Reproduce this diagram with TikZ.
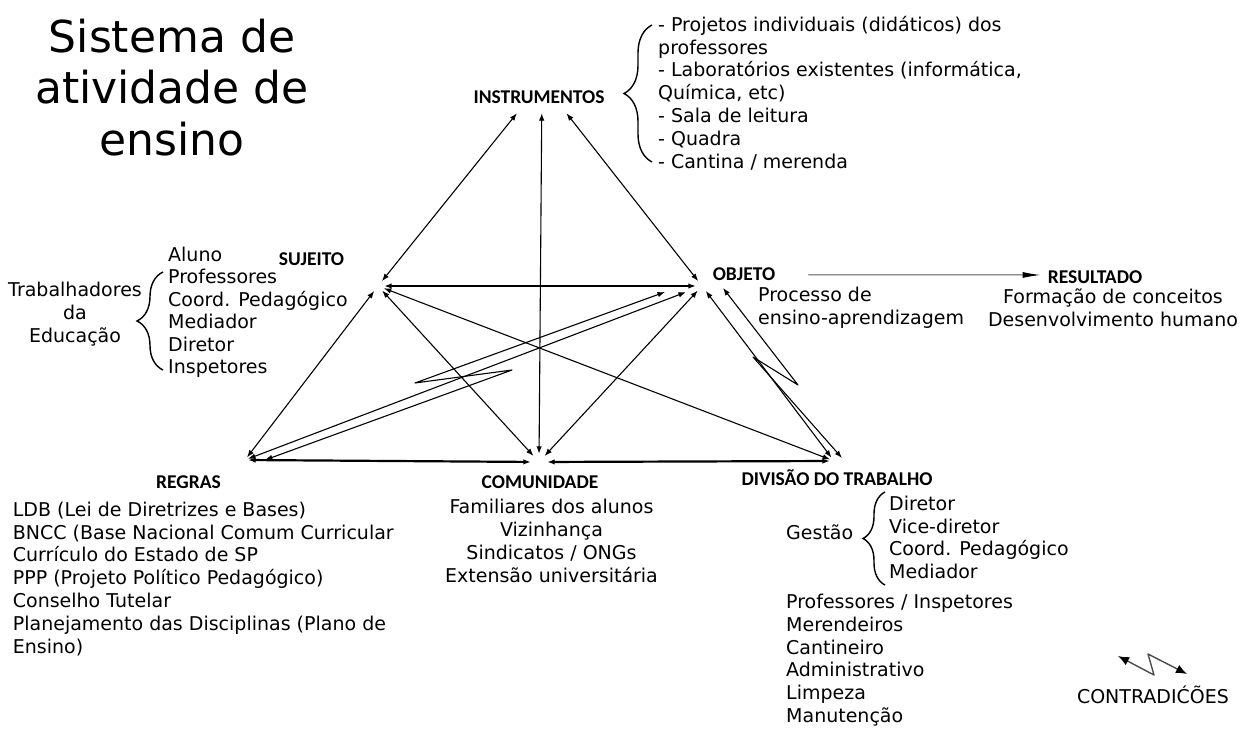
\documentclass[tikz,border=0pt]{standalone}
\usepackage{fontspec}
\setmainfont{DejaVu Sans}
\newfontfamily\lblfont{Carlito}
\usetikzlibrary{arrows.meta,decorations.pathreplacing}

\tikzset{
  vtx/.style={circle,inner sep=0pt,minimum size=#1},
  lbl/.style={font=\lblfont\bfseries\fontsize{19.5}{22}\selectfont,inner sep=0pt,anchor=base},
  txt/.style={font=\fontsize{19}{22.8}\selectfont,inner sep=0pt,align=left,anchor=north west},
  rel/.style={line width=1.1pt,line join=round,{Latex[length=7.5pt,width=5.5pt]}-{Latex[length=7.5pt,width=5.5pt]}},
  relthick/.style={rel,line width=2.2pt},
  brc/.style={decorate,decoration={brace,amplitude=#1},line width=1.4pt},
}

\begin{document}
\begin{tikzpicture}[x=1pt,y=-1pt]
  \useasboundingbox (0,0) rectangle (1250,730);

  % titulo
  \node[font=\fontsize{44}{51.5}\selectfont,align=center,anchor=north,inner sep=0pt] (titulo) at (172,18.6)
    {Sistema de\\atividade de\\ensino};

  % vertices do triangulo
  \node[minimum width=60pt,minimum height=62pt,inner sep=0pt] (i) at (542,82) {};
  \node[vtx=12pt] (s) at (378,286) {};
  \node[vtx=12pt] (o) at (702,286) {};
  \node[vtx=6pt] (r) at (245,460) {};
  \node[vtx=16pt] (c) at (539,462) {};
  \node[vtx=8pt] (d) at (834,461) {};

  % rotulos
  \node[lbl] (instr) at (539,103.3) {INSTRUMENTOS};
  \node[lbl] (suj) at (311.5,265) {SUJEITO};
  \node[lbl] (obj) at (744,280) {OBJETO};
  \node[lbl] (res) at (1095,283) {RESULTADO};
  \node[lbl] (regras) at (188.5,488) {REGRAS};
  \node[lbl] (comun) at (540,488) {COMUNIDADE};
  \node[lbl] (divis) at (837,485) {DIVISÃO DO TRABALHO};

  % setas
  \draw[rel] (s) -- (i);
  \draw[rel] (c) -- (i);
  \draw[rel] (o) -- (i);
  \draw[relthick] (s) -- (o);
  \draw[rel] (s) -- (c);
  \draw[rel] (s) -- (d);
  \draw[rel] (s) -- (r);
  \draw[relthick] (r) -- (c);
  \draw[relthick] (c) -- (d);
  \draw[rel] (c) -- (o);
  \draw[rel] (o) -- (d);
  \draw[rel,shorten >=11pt] (r) -- (o);

  % contradicoes
  \coordinate (ro0) at (265,460);
  \coordinate (ro1) at (512,370);
  \coordinate (ro2) at (415,383);
  \coordinate (ro3) at (665,292);
  \draw[rel] (ro0) -- (ro1) -- (ro2) -- (ro3);
  \coordinate (od0) at (723,288);
  \coordinate (od1) at (798,385);
  \coordinate (od2) at (753,357);
  \coordinate (od3) at (842,458);
  \draw[rel] (od0) -- (od1) -- (od2) -- (od3);

  \draw[line width=1pt,black!65,-{Latex[length=18pt,width=6pt,black]}]
    ([xshift=33pt,yshift=-1.3pt]obj.east) -- ([xshift=-7pt,yshift=1.7pt]res.west);

  % listas
  \node[txt] (listinstr) at (658,16) {- Projetos individuais (didáticos) dos\\professores\\- Laboratórios existentes (informática,\\Química, etc)\\- Sala de leitura\\- Quadra\\- Cantina / merenda};
  \draw[brc=28pt] (652,162) -- (652,25);

  \node[txt,font=\fontsize{19}{22.5}\selectfont] (listsuj) at (168,246.6) {Aluno\\Professores\\Coord. Pedagógico\\Mediador\\Diretor\\Inspetores};
  \draw[brc=26pt] (163,370) -- (163,272);
  \node[txt,align=center,anchor=north] (trab) at (75,282.3) {Trabalhadores\\da\\Educação};

  \node[txt] (listobj) at (758,287) {Processo de\\ensino-aprendizagem};
  \node[txt,align=center,anchor=north] (listres) at (1113,288.5) {Formação de conceitos\\Desenvolvimento humano};

  \node[txt] (listregras) at (12.7,501.6) {LDB (Lei de Diretrizes e Bases)\\BNCC (Base Nacional Comum Curricular\\Currículo do Estado de SP\\PPP (Projeto Político Pedagógico)\\Conselho Tutelar\\Planejamento das Disciplinas (Plano de\\Ensino)};
  \node[txt,align=center,anchor=north] (listcomun) at (551.5,499) {Familiares dos alunos\\Vizinhança\\Sindicatos / ONGs\\Extensão universitária};

  \node[txt,anchor=base west] (gestao) at (786,539.3) {Gestão};
  \draw[brc=22pt] (885,585) -- (885,492);
  \node[txt] (listgestao) at (889,495.6) {Diretor\\Vice-diretor\\Coord. Pedagógico\\Mediador};
  \node[txt] (listdivis) at (786,593.9) {Professores / Inspetores\\Merendeiros\\Cantineiro\\Administrativo\\Limpeza\\Manutenção};

  % legenda
  \coordinate (lg0) at (1118,656);
  \coordinate (lg1) at (1154,675);
  \coordinate (lg2) at (1148,654);
  \coordinate (lg3) at (1187,674);
  \draw[line width=1.4pt,black!70,line join=round,{Latex[length=11pt,width=9pt,black]}-{Latex[length=11pt,width=9pt,black]}]
    (lg0) -- (lg1) -- (lg2) -- (lg3);
  \node[txt,anchor=base] (legenda) at (1153,703) {CONTRADIĆÕES};
\end{tikzpicture}
\end{document}
